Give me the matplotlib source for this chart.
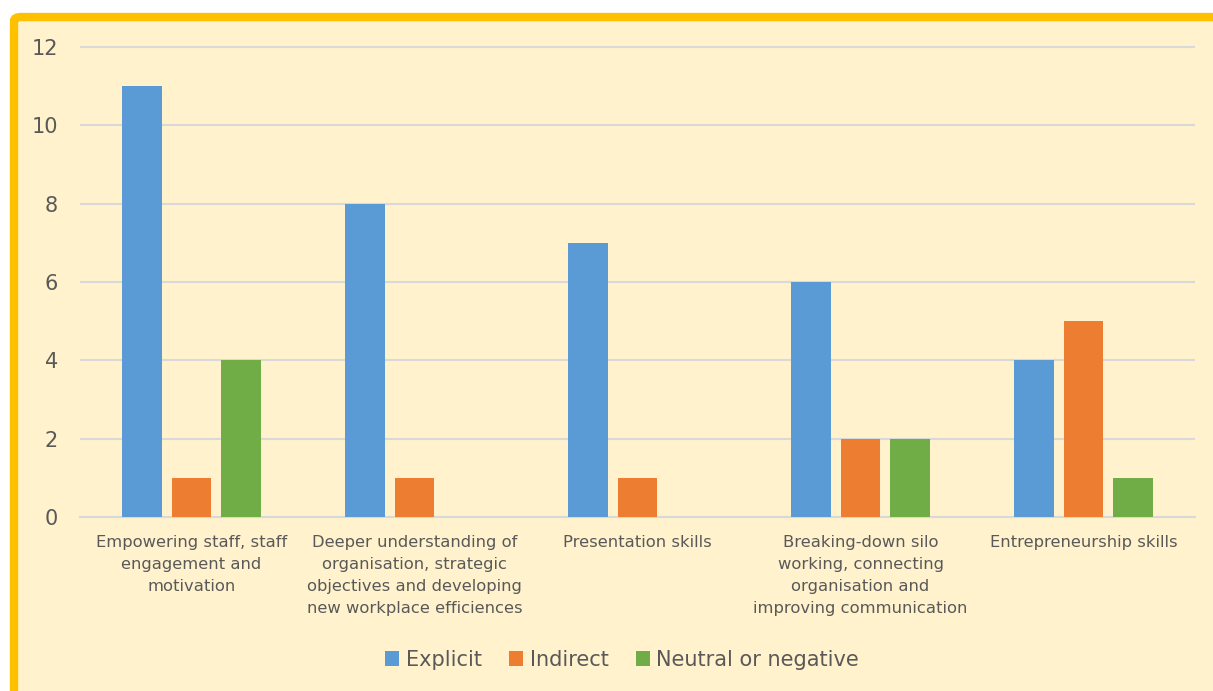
import matplotlib.pyplot as plt
from matplotlib.patches import FancyBboxPatch
import numpy as np

categories = ["Empowering staff, staff\nengagement and\nmotivation",
              "Deeper understanding of\norganisation, strategic\nobjectives and developing\nnew workplace efficiences",
              "Presentation skills",
              "Breaking-down silo\nworking, connecting\norganisation and\nimproving communication",
              "Entrepreneurship skills"]
explicit = [11, 8, 7, 6, 4]
indirect = [1, 1, 1, 2, 5]
neutral = [4, 0, 0, 2, 1]

txt = '#595959'
fig = plt.figure(figsize=(12.13, 6.91), dpi=100)
fig.patch.set_facecolor('white')

# cream panel with gold border (top/left visible, rest cropped)
panel = FancyBboxPatch((14/1213, -0.1), 1.2, 0.1 + (691-17)/691,
                       boxstyle="round,pad=0,rounding_size=0.006",
                       transform=fig.transFigure, facecolor='#FFF2CC',
                       edgecolor='#FFC000', linewidth=6, zorder=-5)
fig.patches.append(panel)

ax = fig.add_axes([80/1213, (691-517)/691, 1115/1213, (517-47)/691])
ax.set_facecolor('none')
ax.set_zorder(1)

x = np.arange(len(categories))
w = 0.175
d = 0.222
ax.bar(x - d, explicit, w, color='#5B9BD5', label='Explicit', zorder=3)
ax.bar(x, indirect, w, color='#ED7D31', label='Indirect', zorder=3)
ax.bar(x + d, neutral, w, color='#70AD47', label='Neutral or negative', zorder=3)

ax.set_xlim(-0.5, len(categories) - 0.5)
ax.set_ylim(0, 12)
ax.set_yticks(range(0, 13, 2))
ax.yaxis.grid(True, color='#D9D9D9', linewidth=1.5, zorder=0)
ax.set_axisbelow(True)
for gl in ax.get_ygridlines():
    gl.set_clip_on(False)
    gl.set_solid_capstyle('butt')
for s in ['top', 'right', 'left']:
    ax.spines[s].set_visible(False)
ax.spines['bottom'].set_color('#D9D9D9')
ax.spines['bottom'].set_linewidth(1.5)

ax.set_xticks(x)
ax.set_xticklabels(categories, fontsize=11.8, color=txt, linespacing=1.58, va='top')
ax.tick_params(axis='x', length=0, pad=13)
ax.tick_params(axis='y', length=0, pad=16, labelsize=15, labelcolor=txt)

leg = fig.legend(loc='center', bbox_to_anchor=(622/1213, (691-660)/691), ncol=3,
                 frameon=False, fontsize=15, handlelength=0.7, handleheight=0.7,
                 handletextpad=0.3, columnspacing=1.3)
for t in leg.get_texts():
    t.set_color(txt)

plt.savefig('out.png', dpi=100, facecolor=fig.get_facecolor())
